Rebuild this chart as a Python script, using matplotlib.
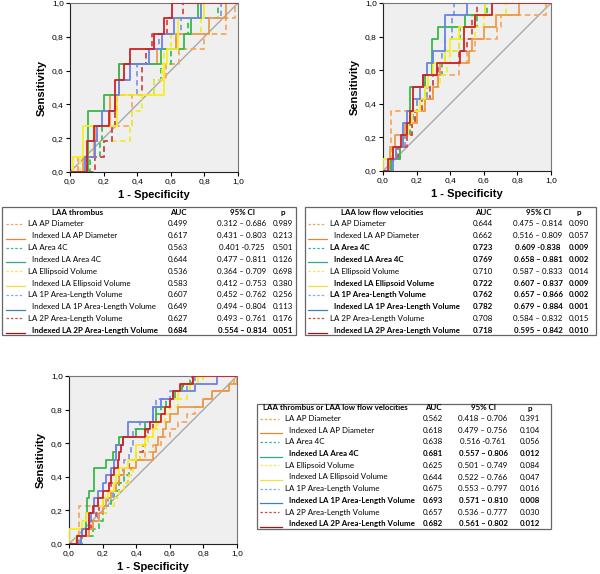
import matplotlib
matplotlib.use('Agg')
import matplotlib.pyplot as plt
from matplotlib.lines import Line2D

# curve names / styles (same order in every panel and table)
names = ['LA AP Diameter', 'Indexed LA AP Diameter', 'LA Area 4C', 'Indexed LA Area 4C',
         'LA Ellipsoid Volume', 'Indexed LA Ellipsoid Volume', 'LA 1P Area-Length Volume',
         'Indexed LA 1P Area-Length Volume', 'LA 2P Area-Length Volume',
         'Indexed LA 2P Area-Length Volume']
colors = ['#f5a860', '#ec9a48', '#3cbf5a', '#38b848', '#f2ec30', '#f6ee20',
          '#7f9ae8', '#6a82e6', '#d84848', '#cc2226']
table_colors = ['#e8a860', '#e08a30', '#40b0a0', '#30a880', '#f0e850', '#f0e040',
                '#80b0d8', '#4080c0', '#c05050', '#a01818']

# fpr at which each positive case is gained
thr_fpr = [
    [0.05, 0.20, 0.25, 0.37, 0.37, 0.50, 0.57, 0.65, 0.80, 0.93, 0.98],
    [0.08, 0.14, 0.15, 0.24, 0.24, 0.29, 0.29, 0.52, 0.63, 0.83, 0.93],
    [0.12, 0.18, 0.19, 0.27, 0.28, 0.50, 0.54, 0.60, 0.63, 0.70, 0.88],
    [0.11, 0.11, 0.11, 0.11, 0.20, 0.29, 0.29, 0.54, 0.68, 0.72, 0.76],
    [0.06, 0.10, 0.36, 0.37, 0.43, 0.50, 0.55, 0.56, 0.60, 0.78, 0.80],
    [0.02, 0.08, 0.08, 0.28, 0.28, 0.56, 0.56, 0.58, 0.64, 0.64, 0.80],
    [0.10, 0.20, 0.25, 0.27, 0.27, 0.40, 0.40, 0.45, 0.53, 0.66, 0.90],
    [0.09, 0.15, 0.16, 0.19, 0.27, 0.29, 0.36, 0.47, 0.55, 0.62, 0.78],
    [0.15, 0.20, 0.25, 0.27, 0.28, 0.43, 0.43, 0.45, 0.49, 0.58, 0.67],
    [0.10, 0.10, 0.14, 0.23, 0.27, 0.27, 0.32, 0.36, 0.50, 0.56, 0.61],
]
lfv_fpr = [
    [0.05, 0.05, 0.05, 0.05, 0.05, 0.25, 0.30, 0.33, 0.45, 0.50, 0.55, 0.68, 0.70, 0.97],
    [0.04, 0.04, 0.07, 0.13, 0.20, 0.25, 0.30, 0.33, 0.34, 0.51, 0.53, 0.60, 0.67, 0.81],
    [0.04, 0.08, 0.13, 0.16, 0.19, 0.20, 0.25, 0.25, 0.35, 0.37, 0.45, 0.46, 0.56, 0.62],
    [0.05, 0.10, 0.12, 0.14, 0.16, 0.16, 0.16, 0.25, 0.29, 0.29, 0.29, 0.33, 0.49, 0.61],
    [0.03, 0.08, 0.13, 0.17, 0.20, 0.23, 0.26, 0.34, 0.38, 0.40, 0.45, 0.55, 0.60, 0.73],
    [0.00, 0.06, 0.12, 0.15, 0.17, 0.22, 0.25, 0.27, 0.30, 0.37, 0.40, 0.45, 0.55, 0.61],
    [0.05, 0.10, 0.13, 0.17, 0.18, 0.20, 0.26, 0.30, 0.32, 0.35, 0.37, 0.41, 0.41, 0.42],
    [0.06, 0.08, 0.12, 0.12, 0.14, 0.18, 0.22, 0.24, 0.26, 0.30, 0.37, 0.37, 0.37, 0.50],
    [0.05, 0.09, 0.14, 0.17, 0.19, 0.23, 0.28, 0.30, 0.33, 0.45, 0.50, 0.53, 0.53, 0.56],
    [0.03, 0.06, 0.11, 0.14, 0.16, 0.18, 0.18, 0.24, 0.32, 0.46, 0.48, 0.48, 0.55, 0.65],
]
both_fpr = [
    [0.06, 0.06, 0.06, 0.06, 0.06, 0.20, 0.25, 0.30, 0.35, 0.37, 0.40, 0.45, 0.50, 0.55, 0.60, 0.65, 0.70, 0.75, 0.80, 0.85, 0.95, 0.98],
    [0.07, 0.12, 0.14, 0.18, 0.20, 0.22, 0.25, 0.28, 0.30, 0.33, 0.40, 0.50, 0.52, 0.53, 0.56, 0.58, 0.60, 0.65, 0.80, 0.85, 0.95, 1.00],
    [0.08, 0.14, 0.18, 0.20, 0.22, 0.25, 0.27, 0.30, 0.33, 0.36, 0.40, 0.42, 0.44, 0.45, 0.46, 0.50, 0.52, 0.55, 0.58, 0.62, 0.68, 0.72],
    [0.05, 0.08, 0.10, 0.10, 0.11, 0.11, 0.12, 0.15, 0.15, 0.15, 0.22, 0.26, 0.28, 0.30, 0.40, 0.45, 0.52, 0.52, 0.60, 0.63, 0.67, 0.74],
    [0.04, 0.10, 0.14, 0.18, 0.22, 0.27, 0.30, 0.33, 0.36, 0.38, 0.40, 0.42, 0.45, 0.47, 0.50, 0.53, 0.57, 0.60, 0.65, 0.70, 0.75, 0.80],
    [0.00, 0.00, 0.08, 0.10, 0.14, 0.20, 0.23, 0.27, 0.28, 0.30, 0.35, 0.40, 0.40, 0.45, 0.50, 0.52, 0.55, 0.57, 0.60, 0.65, 0.72, 0.77],
    [0.06, 0.10, 0.14, 0.17, 0.20, 0.23, 0.26, 0.28, 0.30, 0.32, 0.33, 0.36, 0.37, 0.38, 0.38, 0.42, 0.50, 0.50, 0.52, 0.60, 0.70, 0.75],
    [0.07, 0.08, 0.12, 0.13, 0.15, 0.15, 0.17, 0.20, 0.22, 0.25, 0.27, 0.28, 0.28, 0.32, 0.35, 0.35, 0.50, 0.50, 0.55, 0.62, 0.75, 0.88],
    [0.05, 0.10, 0.13, 0.16, 0.18, 0.20, 0.23, 0.25, 0.30, 0.33, 0.36, 0.40, 0.44, 0.45, 0.47, 0.50, 0.55, 0.57, 0.60, 0.62, 0.68, 0.73],
    [0.05, 0.10, 0.12, 0.12, 0.14, 0.17, 0.20, 0.24, 0.25, 0.27, 0.29, 0.30, 0.31, 0.32, 0.45, 0.48, 0.55, 0.57, 0.60, 0.62, 0.66, 0.74],
]

# table values
thr_auc = ['0.499', '0.617', '0.563', '0.644', '0.536', '0.583', '0.607', '0.649', '0.627', '0.684']
thr_ci = ['0.312 – 0.686', '0.431 – 0.803', '0.401 -0.725', '0.477 – 0.811', '0.364 – 0.709',
          '0.412 – 0.753', '0.452 – 0.762', '0.494 – 0.804', '0.493 – 0.761', '0.554 – 0.814']
thr_p = ['0.989', '0.213', '0.501', '0.126', '0.698', '0.380', '0.256', '0.113', '0.176', '0.051']
thr_bold = [9]

lfv_auc = ['0.644', '0.662', '0.723', '0.769', '0.710', '0.722', '0.762', '0.782', '0.708', '0.718']
lfv_ci = ['0.475 – 0.814', '0.516 – 0.809', '0.609 -0.838', '0.658 – 0.881', '0.587 – 0.833',
          '0.607 – 0.837', '0.657 – 0.866', '0.679 – 0.884', '0.584 – 0.832', '0.595 – 0.842']
lfv_p = ['0.090', '0.057', '0.009', '0.002', '0.014', '0.009', '0.002', '0.001', '0.015', '0.010']
lfv_bold = [2, 3, 5, 6, 7, 9]

both_auc = ['0.562', '0.618', '0.638', '0.681', '0.625', '0.644', '0.675', '0.693', '0.657', '0.682']
both_ci = ['0.418 – 0.706', '0.479 – 0.756', '0.516 -0.761', '0.557 – 0.806', '0.501 – 0.749',
           '0.522 – 0.766', '0.553 – 0.797', '0.571 – 0.810', '0.536 – 0.777', '0.561 – 0.802']
both_p = ['0.391', '0.104', '0.056', '0.012', '0.084', '0.047', '0.016', '0.008', '0.030', '0.012']
both_bold = [3, 7, 9]

W, H = 600, 574
fig = plt.figure(figsize=(6, 5.74), dpi=100)
fig.patch.set_facecolor('white')

def fx(x):
    return x / W

def fy(y):
    return 1 - y / H

def roc_xy(steps):
    n = len(steps)
    xs, ys = [0.0], [0.0]
    for k, x in enumerate(sorted(steps)):
        xs += [x, x]
        ys += [k / n, (k + 1) / n]
    xs.append(1.0)
    ys.append(1.0)
    return xs, ys

def roc_panel(left, top, right, bottom, data, xlab_y):
    ax = fig.add_axes([fx(left), fy(bottom), fx(right - left), (bottom - top) / H])
    ax.set_facecolor('#efefef')
    ax.plot([0, 1], [0, 1], color='#a8a8a8', lw=1.0, zorder=1)
    for i, steps in enumerate(data):
        xs, ys = roc_xy(steps)
        ls = (0, (3, 2)) if i % 2 == 0 else '-'
        ax.plot(xs, ys, color=colors[i], lw=1.3, ls=ls, zorder=2 + i % 2)
    ax.set_xlim(0, 1)
    ax.set_ylim(0, 1)
    ticks = [0, 0.2, 0.4, 0.6, 0.8, 1.0]
    labs = ['0,0', '0,2', '0,4', '0,6', '0,8', '1,0']
    ax.set_xticks(ticks)
    ax.set_xticklabels(labs)
    ax.set_yticks(ticks)
    ax.set_yticklabels(labs)
    ax.tick_params(labelsize=6, length=3, width=0.8, pad=1.5)
    for s in ['left', 'bottom']:
        ax.spines[s].set_color('#222222')
    for s in ['top', 'right']:
        ax.spines[s].set_color('#777777')
    ax.set_ylabel('Sensitivity', fontsize=8, fontweight='bold', labelpad=4)
    fig.text(fx((left + right) / 2), fy(xlab_y), '1 - Specificity', fontsize=8,
             fontweight='bold', ha='center', va='center')
    return ax

def table(x0, y0, x1, y1, title, auc, ci, p, bold, head_y, row_y0, dy,
          line_x, lab_x, title_x, auc_x, ci_x, p_x):
    fig.add_artist(plt.Rectangle((fx(x0), fy(y1)), fx(x1 - x0), (y1 - y0) / H,
                                 fill=False, ec='#666666', lw=0.9,
                                 transform=fig.transFigure))
    kw = dict(fontsize=5.7, family=['Lato', 'DejaVu Sans'], va='center')
    fig.text(fx(title_x), fy(head_y), title, ha='center', fontweight='bold', **kw)
    for xx, t in [(auc_x, 'AUC'), (ci_x, '95% CI'), (p_x, 'p')]:
        fig.text(fx(xx), fy(head_y), t, ha='center', fontweight='bold', **kw)
    for i in range(10):
        y = row_y0 + i * dy
        fw = 'bold' if i in bold else 'normal'
        if i % 2 == 0:
            fig.add_artist(Line2D([fx(line_x[0]), fx(line_x[1])], [fy(y), fy(y)],
                                  color=table_colors[i], lw=0.9, ls=(0, (2, 1.5)),
                                  transform=fig.transFigure))
            fig.text(fx(lab_x), fy(y), names[i], ha='left', fontweight=fw, **kw)
        else:
            fig.add_artist(Line2D([fx(line_x[0]), fx(line_x[1] + 3)], [fy(y + 3), fy(y + 3)],
                                  color=table_colors[i], lw=0.9,
                                  transform=fig.transFigure))
            fig.text(fx(lab_x + 4), fy(y), names[i], ha='left', fontweight=fw, **kw)
        fig.text(fx(auc_x), fy(y), auc[i], ha='center', fontweight=fw, **kw)
        fig.text(fx(ci_x), fy(y), ci[i], ha='center', fontweight=fw, **kw)
        fig.text(fx(p_x), fy(y), p[i], ha='center', fontweight=fw, **kw)

plt.rcParams['font.family'] = ['Liberation Sans', 'DejaVu Sans']

roc_panel(70, 3, 238, 172, thr_fpr, 195)
roc_panel(383, 3, 551, 171, lfv_fpr, 194)
roc_panel(69, 376, 237, 544, both_fpr, 567)

table(2, 207, 296, 335, 'LAA thrombus', thr_auc, thr_ci, thr_p, thr_bold,
      213, 224, 11.8, (6, 22), 28, 78, 178, 242, 283)
table(305, 207, 596, 335, 'LAA low flow velocities', lfv_auc, lfv_ci, lfv_p, lfv_bold,
      213, 224, 11.8, (308, 324), 330, 382, 483, 538, 579)
table(257, 404, 551, 529, 'LAA thrombus or LAA low flow velocities', both_auc, both_ci,
      both_p, both_bold, 408, 418.5, 11.7, (260, 279), 285, 335, 433, 483, 530)

plt.savefig('out.png', dpi=100)
